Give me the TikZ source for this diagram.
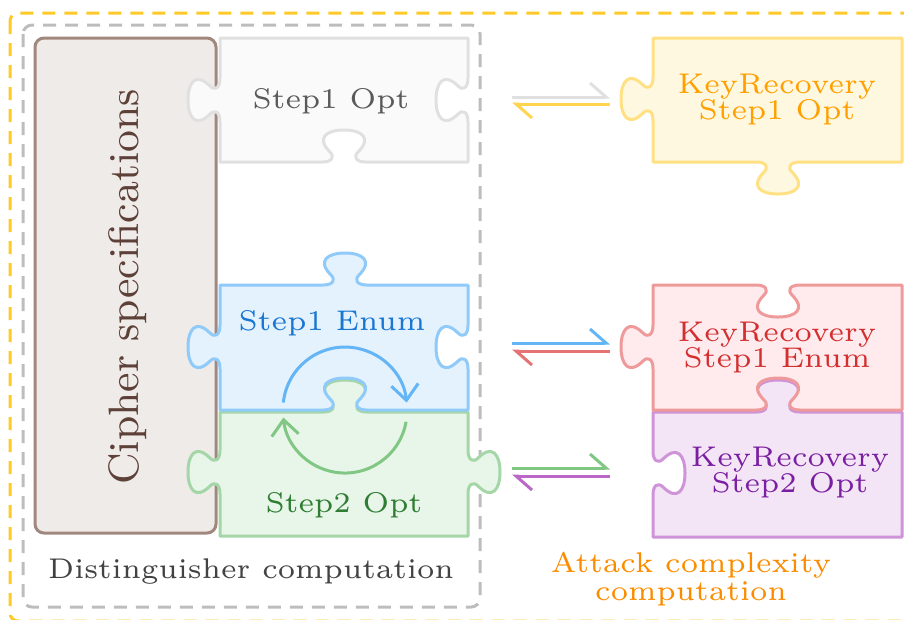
\documentclass[tikz,border=0pt]{standalone}
\usetikzlibrary{arrows.meta}
\definecolor{framey}{HTML}{FFCA28}
\definecolor{frameg}{HTML}{BDBDBD}
\definecolor{brfill}{HTML}{EFEBE9}
\definecolor{brdraw}{HTML}{A1887F}
\definecolor{brtext}{HTML}{5D4037}
\definecolor{gyfill}{HTML}{FAFAFA}
\definecolor{gydraw}{HTML}{E0E0E0}
\definecolor{gytext}{HTML}{5A5A5A}
\definecolor{blfill}{HTML}{E3F2FD}
\definecolor{bldraw}{HTML}{90CAF9}
\definecolor{bltext}{HTML}{1976D2}
\definecolor{blarc}{HTML}{64B5F6}
\definecolor{gnfill}{HTML}{E8F5E9}
\definecolor{gndraw}{HTML}{A5D6A7}
\definecolor{gntext}{HTML}{2E7D32}
\definecolor{gnarc}{HTML}{81C784}
\definecolor{amfill}{HTML}{FFF8E1}
\definecolor{amdraw}{HTML}{FFE082}
\definecolor{amtext}{HTML}{FFA000}
\definecolor{amline}{HTML}{FFD54F}
\definecolor{rdfill}{HTML}{FFEBEE}
\definecolor{rddraw}{HTML}{EF9A9A}
\definecolor{rdtext}{HTML}{D32F2F}
\definecolor{rdline}{HTML}{E57373}
\definecolor{pufill}{HTML}{F3E5F5}
\definecolor{pudraw}{HTML}{CE93D8}
\definecolor{putext}{HTML}{7B1FA2}
\definecolor{puline}{HTML}{BA68C8}
\definecolor{dktext}{HTML}{424242}
\definecolor{ortext}{HTML}{FB8C00}
% jigsaw tab: centre (#1,#2), travel direction (#3,#4), bulge direction (#5,#6)
\newcommand\pzltab[6]{%
 -- ({#1-22*(#3)},{#2-22*(#4)})
 .. controls ({#1-12*(#3)},{#2-12*(#4)}) and ({#1-9*(#3)+5*(#5)},{#2-9*(#4)+5*(#6)}) .. ({#1-14*(#3)+10*(#5)},{#2-14*(#4)+10*(#6)})
 .. controls ({#1-28*(#3)+24*(#5)},{#2-28*(#4)+24*(#6)}) and ({#1-18*(#3)+32*(#5)},{#2-18*(#4)+32*(#6)}) .. ({#1+32*(#5)},{#2+32*(#6)})
 .. controls ({#1+18*(#3)+32*(#5)},{#2+18*(#4)+32*(#6)}) and ({#1+28*(#3)+24*(#5)},{#2+28*(#4)+24*(#6)}) .. ({#1+14*(#3)+10*(#5)},{#2+14*(#4)+10*(#6)})
 .. controls ({#1+9*(#3)+5*(#5)},{#2+9*(#4)+5*(#6)}) and ({#1+12*(#3)},{#2+12*(#4)}) .. ({#1+22*(#3)},{#2+22*(#4)})
}
\newcommand\smalltxt{\fontsize{5.7}{5.2}\selectfont}
\begin{document}
\begin{tikzpicture}[x=0.2pt,y=-0.2pt,
  pz/.style 2 args={fill=#1,draw=#2,line width=0.6pt,line join=round},
  lbl/.style={inner sep=0pt,font=\smalltxt,align=center},
  harp/.style={line width=0.6pt,-{Straight Barb[left,length=3.2pt,width=5.6pt]}},
  cyc/.style={line width=0.6pt,-{Straight Barb[length=3.1pt,width=5.4pt]}},
  frame/.style={line width=0.6pt,dash pattern=on 2.6pt off 1.8pt}]
\useasboundingbox (0,0) rectangle (904,619);
% outer frames
\draw[frame,framey,rounded corners=1.6pt] (10,13) rectangle (930,621);
\draw[frame,frameg,rounded corners=1.8pt] (23,25) rectangle (480,607);
% cipher specifications box
\draw[fill=brfill,draw=brdraw,line width=0.6pt,rounded corners=1.8pt] (35,38) rectangle (216,533);
\node[inner sep=0pt,font=\fontsize{8.5}{10}\selectfont,text=brtext,rotate=90,anchor=base] (cipher) at (138,287) {Cipher specifications};
% left column pieces
\draw[pz={gyfill}{gydraw}] (220,38) -- (468,38) \pzltab{468}{100}{0}{1}{-1}{0} -- (468,162) \pzltab{344}{162}{-1}{0}{0}{-1} -- (220,162) \pzltab{220}{100}{0}{-1}{-1}{0} -- cycle;
\draw[pz={gnfill}{gndraw}] (220,412) \pzltab{345}{412}{1}{0}{0}{-1} -- (468,412) \pzltab{468}{472}{0}{1}{1}{0} -- (468,536) -- (220,536) \pzltab{220}{472}{0}{-1}{-1}{0} -- cycle;
\draw[pz={blfill}{bldraw}] (220,285) \pzltab{345}{285}{1}{0}{0}{-1} -- (468,285) \pzltab{468}{347}{0}{1}{-1}{0} -- (468,410) \pzltab{345}{410}{-1}{0}{0}{-1} -- (220,410) \pzltab{220}{347}{0}{-1}{-1}{0} -- cycle;
% right column pieces
\draw[pz={amfill}{amdraw}] (653,38) -- (902,38) -- (902,162) \pzltab{778}{162}{-1}{0}{0}{1} -- (653,162) \pzltab{653}{99}{0}{-1}{-1}{0} -- cycle;
\draw[pz={pufill}{pudraw}] (653,412) \pzltab{778}{412}{1}{0}{0}{-1} -- (902,412) -- (902,537) -- (653,537) \pzltab{653}{473}{0}{-1}{1}{0} -- cycle;
\draw[pz={rdfill}{rddraw}] (653,285) \pzltab{778}{285}{1}{0}{0}{1} -- (902,285) -- (902,410) \pzltab{778}{410}{-1}{0}{0}{-1} -- (653,410) \pzltab{653}{347}{0}{-1}{-1}{0} -- cycle;
% labels
\node[lbl,text=gytext,anchor=base] (s1o) at (331,108) {Step1 Opt};
\node[lbl,text=bltext,anchor=base] (s1e) at (332,330) {Step1 Enum};
\node[lbl,text=gntext,anchor=base] (s2o) at (344,512) {Step2 Opt};
\node[lbl,text=amtext] (k1o) at (777,100) {KeyRecovery\\Step1 Opt};
\node[lbl,text=rdtext] (k1e) at (777,348) {KeyRecovery\\Step1 Enum};
\node[lbl,text=putext] (k2o) at (790,473) {KeyRecovery\\Step2 Opt};
\node[lbl,text=dktext,anchor=base] (dist) at (251,578) {Distinguisher computation};
\node[lbl,text=ortext,font=\fontsize{5.7}{5.6}\selectfont] (atk) at (691,579) {Attack complexity\\computation};
% cycle arrows
\draw[cyc,blarc] (345,409) ++(186:62) arc[start angle=186,end angle=354,radius=62];
\draw[cyc,gnarc] (345,411) ++(10:62) arc[start angle=10,end angle=174,radius=62];
% harpoon pairs
\coordinate (a1l) at (512,97);  \coordinate (a1r) at (610,97);
\coordinate (b1l) at (512,104); \coordinate (b1r) at (610,104);
\coordinate (a2l) at (512,343); \coordinate (a2r) at (610,343);
\coordinate (b2l) at (512,351); \coordinate (b2r) at (610,351);
\coordinate (a3l) at (512,468); \coordinate (a3r) at (610,468);
\coordinate (b3l) at (512,476); \coordinate (b3r) at (610,476);
\draw[harp,gydraw] (a1l) -- (a1r);
\draw[harp,amline] (b1r) -- (b1l);
\draw[harp,blarc] (a2l) -- (a2r);
\draw[harp,rdline] (b2r) -- (b2l);
\draw[harp,gnarc] (a3l) -- (a3r);
\draw[harp,puline] (b3r) -- (b3l);
\end{tikzpicture}
\end{document}
